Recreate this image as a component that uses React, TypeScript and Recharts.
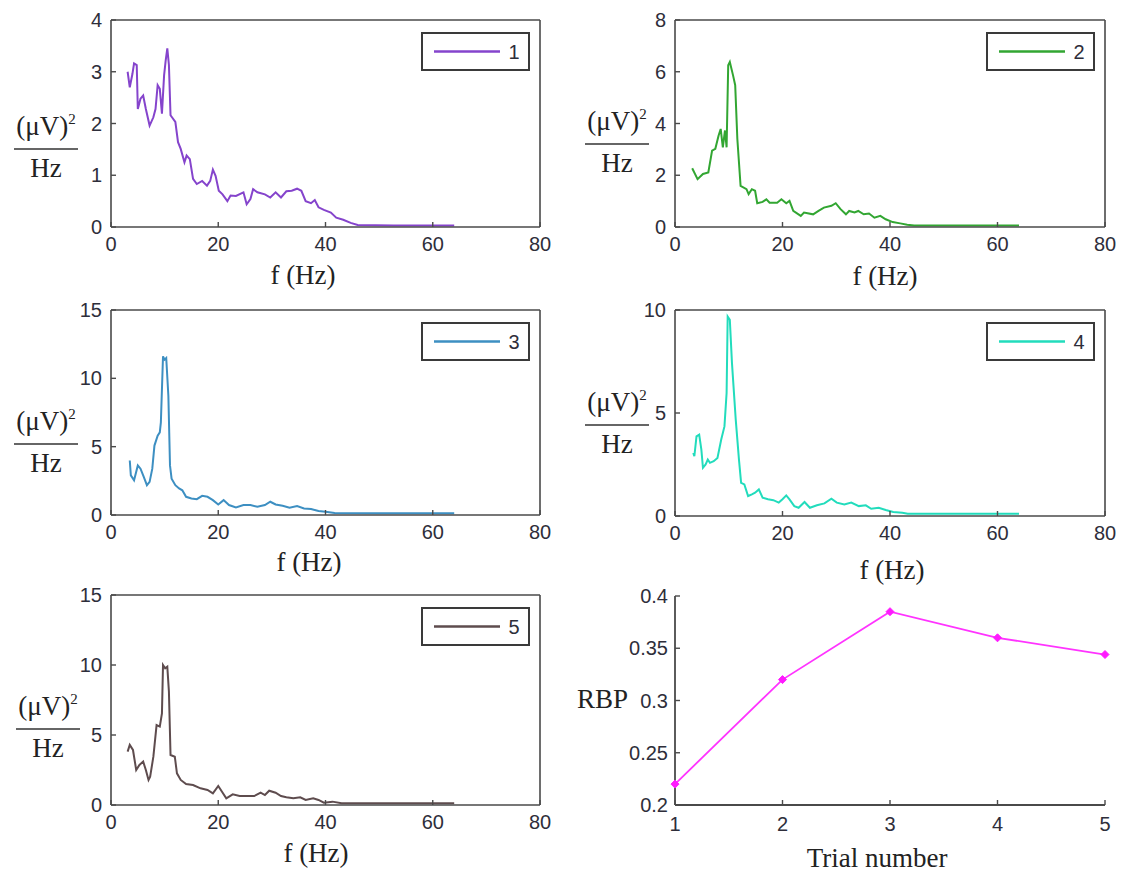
import React from 'react'
import { Legend, Line, LineChart, XAxis, YAxis } from 'recharts'

// power spectra, trials 1..5 (f in Hz, PSD in (uV)^2/Hz)
const freq1 = [3.1, 3.5, 4.0, 4.3, 4.8, 5.0, 5.5, 6.0, 6.5, 7.2, 7.9, 8.3, 8.7, 9.1, 9.5, 9.9, 10.2, 10.5, 10.8, 11.1, 12.0, 12.5, 13.0, 13.7, 14.1, 14.7, 15.3, 16.0, 17.0, 17.9, 18.5, 19.0, 19.5, 20.1, 20.8, 21.7, 22.3, 23.3, 24.7, 25.3, 26.0, 26.5, 27.3, 28.7, 29.7, 30.7, 31.7, 32.7, 33.7, 34.7, 35.5, 36.3, 37.3, 38.0, 38.7, 39.7, 41.0, 42.0, 43.3, 44.7, 46.0, 52.7, 58.0, 64.0]
const psd1 = [3.0, 2.7, 2.96, 3.16, 3.13, 2.28, 2.48, 2.54, 2.28, 1.96, 2.12, 2.28, 2.74, 2.67, 2.19, 2.93, 3.22, 3.45, 3.13, 2.16, 2.03, 1.64, 1.51, 1.25, 1.38, 1.31, 0.93, 0.83, 0.89, 0.8, 0.89, 1.11, 0.99, 0.7, 0.63, 0.5, 0.61, 0.6, 0.67, 0.44, 0.54, 0.73, 0.67, 0.63, 0.57, 0.67, 0.57, 0.69, 0.7, 0.74, 0.7, 0.5, 0.46, 0.52, 0.38, 0.33, 0.28, 0.18, 0.14, 0.08, 0.04, 0.03, 0.03, 0.03]

const freq2 = [3.2, 4.2, 5.2, 6.2, 6.9, 7.5, 8.1, 8.5, 8.9, 9.3, 9.6, 9.9, 10.2, 10.8, 11.2, 11.6, 12.2, 13.3, 13.7, 14.3, 14.9, 15.3, 16.3, 17.0, 17.6, 19.0, 19.8, 20.7, 21.3, 22.0, 23.4, 24.0, 25.7, 26.7, 27.7, 29.1, 29.9, 30.8, 31.8, 32.4, 33.4, 34.1, 35.1, 36.1, 37.1, 38.2, 39.2, 40.5, 41.9, 43.2, 44.5, 52.0, 58.0, 64.0]
const psd2 = [2.27, 1.85, 2.05, 2.11, 2.95, 3.02, 3.53, 3.79, 3.08, 3.73, 3.08, 6.25, 6.38, 5.86, 5.48, 3.4, 1.59, 1.46, 1.27, 1.46, 1.4, 0.92, 0.97, 1.07, 0.94, 0.94, 1.07, 0.92, 1.01, 0.62, 0.43, 0.56, 0.49, 0.62, 0.75, 0.82, 0.92, 0.69, 0.49, 0.62, 0.56, 0.62, 0.49, 0.52, 0.36, 0.43, 0.3, 0.19, 0.14, 0.09, 0.06, 0.06, 0.06, 0.06]

const freq3 = [3.5, 3.7, 4.3, 5.0, 5.5, 6.0, 6.7, 7.2, 7.7, 8.1, 8.7, 9.1, 9.3, 9.7, 10.0, 10.3, 10.7, 11.0, 11.3, 12.0, 12.7, 13.3, 14.0, 15.0, 16.0, 17.0, 18.0, 19.0, 20.0, 21.0, 22.0, 23.3, 24.7, 26.0, 27.3, 28.7, 29.7, 30.7, 32.0, 33.3, 34.7, 36.0, 37.3, 38.7, 40.0, 41.7, 50.0, 64.0]
const psd3 = [3.99, 2.9, 2.54, 3.63, 3.39, 2.9, 2.18, 2.42, 3.39, 5.08, 5.81, 6.05, 6.77, 11.61, 11.37, 11.49, 8.71, 3.63, 2.66, 2.18, 1.94, 1.81, 1.33, 1.21, 1.16, 1.4, 1.33, 1.09, 0.77, 1.09, 0.73, 0.56, 0.73, 0.73, 0.6, 0.73, 0.97, 0.77, 0.68, 0.53, 0.65, 0.48, 0.44, 0.29, 0.24, 0.15, 0.12, 0.12]

const freq4 = [3.4, 3.6, 4.0, 4.5, 4.9, 5.2, 5.7, 6.1, 6.5, 7.2, 7.9, 8.6, 9.2, 9.6, 9.8, 10.2, 10.6, 11.3, 11.9, 12.3, 12.9, 13.6, 14.3, 14.9, 15.6, 16.3, 17.3, 18.3, 19.3, 20.0, 20.7, 21.3, 22.2, 23.0, 24.1, 25.1, 26.4, 27.8, 29.1, 30.1, 31.5, 32.8, 34.2, 35.5, 36.5, 37.9, 39.2, 40.6, 42.3, 43.3, 52.0, 64.0]
const psd4 = [3.06, 2.9, 3.87, 3.95, 3.23, 2.34, 2.5, 2.74, 2.58, 2.66, 2.82, 3.71, 4.35, 5.97, 9.68, 9.52, 7.42, 4.68, 2.74, 1.61, 1.53, 0.97, 1.05, 1.13, 1.29, 0.89, 0.81, 0.77, 0.65, 0.81, 1.0, 0.81, 0.48, 0.4, 0.68, 0.4, 0.52, 0.61, 0.84, 0.65, 0.56, 0.65, 0.48, 0.52, 0.35, 0.4, 0.29, 0.19, 0.16, 0.11, 0.11, 0.11]

const freq5 = [3.1, 3.5, 4.1, 4.7, 5.3, 6.0, 6.5, 7.0, 7.3, 7.9, 8.5, 9.1, 9.5, 9.7, 10.1, 10.5, 10.8, 11.1, 11.9, 12.3, 13.0, 14.0, 15.3, 16.7, 18.0, 19.0, 20.0, 20.7, 21.5, 22.7, 24.0, 25.3, 26.7, 27.9, 28.7, 29.5, 30.7, 31.7, 32.7, 34.0, 35.3, 36.3, 37.7, 38.7, 39.7, 41.3, 43.0, 52.0, 64.0]
const psd5 = [3.81, 4.29, 3.93, 2.5, 2.86, 3.1, 2.5, 1.79, 2.02, 3.45, 5.71, 5.6, 6.55, 10.0, 9.76, 9.88, 8.1, 3.57, 3.45, 2.26, 1.79, 1.5, 1.43, 1.19, 1.07, 0.83, 1.36, 0.95, 0.48, 0.76, 0.64, 0.64, 0.64, 0.88, 0.71, 1.02, 0.88, 0.64, 0.55, 0.48, 0.55, 0.36, 0.48, 0.36, 0.17, 0.24, 0.12, 0.12, 0.12]

// relative band power per trial
const trials = [1, 2, 3, 4, 5]
const rbp = [0.22, 0.32, 0.385, 0.36, 0.344]

const freqTicks = [0, 20, 40, 60, 80]
const yTicks1 = [0, 1, 2, 3, 4]
const yTicks2 = [0, 2, 4, 6, 8]
const yTicks3 = [0, 5, 10, 15]
const yTicks4 = [0, 5, 10]
const yTicks5 = [0, 5, 10, 15]
const rbpTicks = [0.2, 0.25, 0.3, 0.35, 0.4]

type Rect = { x: number; y: number; w: number; h: number }

const ML = 10
const YW = 50
const RW = 10
const MR = 10
const MT = 10
const TH = 10
const BH = 40
const MB = 5

const AXIS = '#4a4a4a'
const SANS = '"Liberation Sans", Arial, sans-serif'
const SERIF = '"Liberation Serif", "Times New Roman", serif'
const tickStyle = { fill: '#2e2e3a', fontSize: 20, fontFamily: SANS }

function LegendBox({ color, label }: { color: string; label: string }) {
  return (
    <div
      style={{
        boxSizing: 'border-box',
        width: 109,
        height: 39,
        border: `2px solid #3a3a3a`,
        background: '#fff',
        position: 'relative',
      }}
    >
      <svg width={105} height={35} style={{ position: 'absolute', left: 0, top: 0 }}>
        <line x1={11} x2={77} y1={17.5} y2={17.5} stroke={color} strokeWidth={2.5} />
        <text x={91} y={25} textAnchor="middle" fontSize={20} fill="#2e2e3a" fontFamily={SANS}>
          {label}
        </text>
      </svg>
    </div>
  )
}

function SpectrumPanel({
  freq,
  psd,
  yTicks,
  color,
  label,
  rect,
}: {
  freq: number[]
  psd: number[]
  yTicks: number[]
  color: string
  label: string
  rect: Rect
}) {
  const data = freq.map((f, i) => ({ f, p: psd[i] }))
  const width = ML + YW + rect.w + RW + MR
  const height = MT + TH + rect.h + BH + MB
  const yDomain = [0, yTicks[yTicks.length - 1]]
  const axisLine = { stroke: AXIS, strokeWidth: 1.6 }
  const tickLine = { stroke: AXIS, strokeWidth: 1.4 }
  return (
    <div style={{ position: 'absolute', left: rect.x - ML - YW, top: rect.y - MT - TH }}>
      <LineChart width={width} height={height} data={data} margin={{ top: MT, right: MR, bottom: MB, left: ML }}>
        <XAxis
          xAxisId="b"
          dataKey="f"
          type="number"
          domain={[0, 80]}
          ticks={freqTicks}
          height={BH}
          tickSize={-5}
          tickMargin={15}
          axisLine={axisLine}
          tickLine={tickLine}
          tick={tickStyle}
          allowDataOverflow
        />
        <XAxis
          xAxisId="t"
          orientation="top"
          dataKey="f"
          type="number"
          domain={[0, 80]}
          ticks={freqTicks}
          height={TH}
          tickSize={-5}
          axisLine={axisLine}
          tickLine={tickLine}
          tick={false}
          allowDataOverflow
        />
        <YAxis
          yAxisId="l"
          type="number"
          domain={yDomain}
          ticks={yTicks}
          width={YW}
          tickSize={-5}
          tickMargin={14}
          axisLine={axisLine}
          tickLine={tickLine}
          tick={tickStyle}
          allowDataOverflow
        />
        <YAxis
          yAxisId="r"
          orientation="right"
          type="number"
          domain={yDomain}
          ticks={yTicks}
          width={RW}
          tickSize={-5}
          axisLine={axisLine}
          tickLine={tickLine}
          tick={false}
          allowDataOverflow
        />
        <Line
          xAxisId="t"
          yAxisId="r"
          dataKey="p"
          stroke="none"
          dot={false}
          activeDot={false}
          legendType="none"
          isAnimationActive={false}
        />
        <Line
          xAxisId="b"
          yAxisId="l"
          type="linear"
          dataKey="p"
          stroke={color}
          strokeWidth={2}
          dot={false}
          activeDot={false}
          isAnimationActive={false}
        />
        <Legend
          layout="horizontal"
          verticalAlign="middle"
          align="center"
          wrapperStyle={{ left: ML + YW + rect.w - 119, top: MT + TH + 12, width: 109, height: 39 }}
          content={() => <LegendBox color={color} label={label} />}
        />
      </LineChart>
    </div>
  )
}

function Diamond(props: any) {
  const { cx, cy, index } = props
  if (cx == null || cy == null) return <g key={`d-${index}`} />
  const r = 4
  return (
    <path
      key={`d-${index}`}
      d={`M${cx},${cy - r}L${cx + r},${cy}L${cx},${cy + r}L${cx - r},${cy}Z`}
      fill="#ff1aff"
      stroke="#ff1aff"
    />
  )
}

function RbpPanel({ rect }: { rect: Rect }) {
  const data = trials.map((t, i) => ({ t, v: rbp[i] }))
  const width = ML + YW + rect.w + RW + MR
  const height = MT + TH + rect.h + BH + MB
  const axisLine = { stroke: AXIS, strokeWidth: 1.8 }
  const tickLine = { stroke: AXIS, strokeWidth: 1.4 }
  return (
    <div style={{ position: 'absolute', left: rect.x - ML - YW, top: rect.y - MT - TH }}>
      <LineChart
        width={width}
        height={height}
        data={data}
        margin={{ top: MT + TH, right: MR + RW, bottom: MB, left: ML }}
      >
        <XAxis
          dataKey="t"
          type="number"
          domain={[1, 5]}
          ticks={trials}
          height={BH}
          tickSize={-5}
          tickMargin={17}
          axisLine={axisLine}
          tickLine={tickLine}
          tick={tickStyle}
        />
        <YAxis
          type="number"
          domain={[0.2, 0.4]}
          ticks={rbpTicks}
          width={YW}
          tickSize={-5}
          tickMargin={12}
          axisLine={axisLine}
          tickLine={tickLine}
          tick={tickStyle}
        />
        <Line
          type="linear"
          dataKey="v"
          stroke="#ff33ff"
          strokeWidth={1.8}
          dot={(p: any) => <Diamond key={`dd-${p.index}`} {...p} />}
          activeDot={false}
          isAnimationActive={false}
        />
      </LineChart>
    </div>
  )
}

function Fraction({ cx, lineY }: { cx: number; lineY: number }) {
  return (
    <g>
      <text x={cx} y={lineY - 14} textAnchor="middle" fontSize={27} fontFamily={SERIF} fill="#222">
        (μV)
        <tspan fontSize={15} dy={-11}>
          2
        </tspan>
      </text>
      <line x1={cx - 32} x2={cx + 32} y1={lineY} y2={lineY} stroke="#333" strokeWidth={1.5} />
      <text x={cx} y={lineY + 28} textAnchor="middle" fontSize={27} fontFamily={SERIF} fill="#222">
        Hz
      </text>
    </g>
  )
}

const titleStyle = { fontSize: 27, fontFamily: SERIF, fill: '#222' }

export default function App() {
  return (
    <div style={{ position: 'absolute', left: 0, top: 0, width: 1127, height: 877, background: '#fff' }}>
      <SpectrumPanel freq={freq1} psd={psd1} yTicks={yTicks1} color="#8544cc" label="1" rect={{ x: 111, y: 20, w: 429, h: 207 }} />
      <SpectrumPanel freq={freq2} psd={psd2} yTicks={yTicks2} color="#32a632" label="2" rect={{ x: 675, y: 20, w: 430, h: 207 }} />
      <SpectrumPanel freq={freq3} psd={psd3} yTicks={yTicks3} color="#3d8fc2" label="3" rect={{ x: 111, y: 310, w: 429, h: 205 }} />
      <SpectrumPanel freq={freq4} psd={psd4} yTicks={yTicks4} color="#22dcbc" label="4" rect={{ x: 675, y: 310, w: 430, h: 206 }} />
      <SpectrumPanel freq={freq5} psd={psd5} yTicks={yTicks5} color="#5e4c4e" label="5" rect={{ x: 111, y: 595, w: 429, h: 210 }} />
      <RbpPanel rect={{ x: 675, y: 596, w: 430, h: 209 }} />
      <svg
        width={1127}
        height={877}
        style={{ position: 'absolute', left: 0, top: 0, pointerEvents: 'none' }}
      >
        <text x={303} y={284} textAnchor="middle" {...titleStyle}>f (Hz)</text>
        <text x={885} y={285} textAnchor="middle" {...titleStyle}>f (Hz)</text>
        <text x={309} y={571} textAnchor="middle" {...titleStyle}>f (Hz)</text>
        <text x={892} y={579} textAnchor="middle" {...titleStyle}>f (Hz)</text>
        <text x={316} y={862} textAnchor="middle" {...titleStyle}>f (Hz)</text>
        <text x={877} y={867} textAnchor="middle" {...titleStyle}>Trial number</text>
        <text x={577} y={708} textAnchor="start" {...titleStyle}>RBP</text>
        <Fraction cx={46} lineY={149} />
        <Fraction cx={617} lineY={144} />
        <Fraction cx={46} lineY={444} />
        <Fraction cx={617} lineY={425} />
        <Fraction cx={48} lineY={729} />
      </svg>
    </div>
  )
}
